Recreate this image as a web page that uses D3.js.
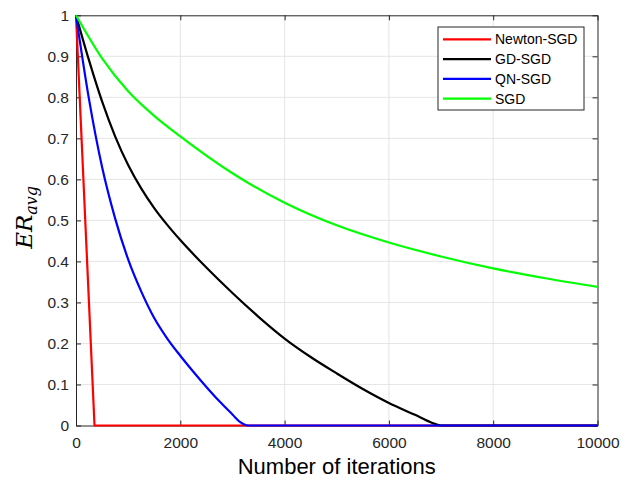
<!DOCTYPE html>
<html>
<head>
<meta charset="utf-8">
<script src="https://cdn.jsdelivr.net/npm/d3@7"></script>
<style>
  body { margin: 0; background: #fff; }
  svg { display: block; font-family: "Liberation Sans", Arial, sans-serif; }
</style>
</head>
<body>
<svg width="632" height="481"></svg>
<script>
// values
const seriesNames = ['Newton-SGD', 'GD-SGD', 'QN-SGD', 'SGD'];
const seriesColors = ['#ff0000', '#000000', '#0000ff', '#00ff00'];

const newtonIter = [0, 355, 10000];
const newtonEr = [1, 0, 0];

const gdIter = [0, 250, 500, 750, 1000, 1250, 1500, 1750, 2000, 2500, 3000, 3500, 4000, 4500, 5000, 5500, 6000, 6500, 6800, 7000, 10000];
const gdEr = [1, 0.89, 0.79, 0.705, 0.635, 0.578, 0.53, 0.489, 0.452, 0.385, 0.323, 0.265, 0.212, 0.167, 0.127, 0.089, 0.055, 0.026, 0.008, 0, 0];

const qnIter = [0, 250, 500, 750, 1000, 1250, 1500, 1750, 2000, 2250, 2500, 2750, 3000, 3150, 3300, 10000];
const qnEr = [1, 0.795, 0.63, 0.505, 0.405, 0.327, 0.262, 0.212, 0.17, 0.131, 0.094, 0.059, 0.027, 0.008, 0, 0];

const sgdIter = [0, 500, 1000, 1500, 2000, 3000, 4000, 5000, 6000, 7000, 8000, 9000, 10000];
const sgdEr = [1, 0.895, 0.815, 0.755, 0.705, 0.615, 0.543, 0.488, 0.446, 0.412, 0.383, 0.359, 0.338];

const xTicks = [0, 2000, 4000, 6000, 8000, 10000];
const yTicks = [0, 0.1, 0.2, 0.3, 0.4, 0.5, 0.6, 0.7, 0.8, 0.9, 1];

const series = [
  { iter: newtonIter, er: newtonEr, curve: d3.curveLinear },
  { iter: gdIter, er: gdEr, curve: d3.curveMonotoneX },
  { iter: qnIter, er: qnEr, curve: d3.curveMonotoneX },
  { iter: sgdIter, er: sgdEr, curve: d3.curveMonotoneX },
];

const margin = { top: 15.3, right: 34.5, bottom: 55.5, left: 76 };
const width = 632 - margin.left - margin.right;
const height = 481 - margin.top - margin.bottom;
const AXIS = '#262626';

const x = d3.scaleLinear().domain([0, 10000]).range([0, width]);
const y = d3.scaleLinear().domain([0, 1]).range([height, 0]);

const svg = d3.select('svg')
  .append('g')
    .attr('transform', 'translate(' + margin.left + ',' + margin.top + ')');

// grid
svg.append('g')
  .selectAll('line')
  .data(xTicks.slice(1, -1))
  .join('line')
    .attr('x1', d => x(d)).attr('x2', d => x(d))
    .attr('y1', 0).attr('y2', height)
    .style('stroke', '#dedede').style('stroke-width', 0.8);
svg.append('g')
  .selectAll('line')
  .data(yTicks.slice(1, -1))
  .join('line')
    .attr('y1', d => y(d)).attr('y2', d => y(d))
    .attr('x1', 0).attr('x2', width)
    .style('stroke', '#dedede').style('stroke-width', 0.8);

const fmt = d => String(+d.toFixed(1));

// axes, ticks pointing inward like matlab
const xAxis = d3.axisBottom(x).tickValues(xTicks).tickSizeInner(-5).tickSizeOuter(0).tickPadding(11).tickFormat(d => d);
const yAxis = d3.axisLeft(y).tickValues(yTicks).tickSizeInner(-5).tickSizeOuter(0).tickPadding(7).tickFormat(fmt);
const xTop = d3.axisTop(x).tickValues(xTicks).tickSizeInner(-5).tickSizeOuter(0).tickFormat('');
const yRight = d3.axisRight(y).tickValues(yTicks).tickSizeInner(-5).tickSizeOuter(0).tickFormat('');

svg.append('g').attr('class', 'x axis').attr('transform', 'translate(0,' + height + ')').call(xAxis);
svg.append('g').attr('class', 'y axis').call(yAxis);
svg.append('g').attr('transform', 'translate(0,0)').call(xTop);
svg.append('g').attr('transform', 'translate(' + width + ',0)').call(yRight);

svg.selectAll('.domain, .tick line').style('stroke', AXIS).style('stroke-width', 1);
svg.selectAll('.tick text').style('fill', AXIS).style('font-size', '15.5px')
  .style('font-family', '"Liberation Sans", Arial, sans-serif');

// lines
series.forEach((s, i) => {
  const line = d3.line()
    .curve(s.curve)
    .x(d => x(d[0]))
    .y(d => y(d[1]));
  svg.append('path')
    .datum(s.iter.map((v, j) => [v, s.er[j]]))
    .attr('d', line)
    .style('fill', 'none')
    .style('stroke', seriesColors[i])
    .style('stroke-width', 2.2)
    .style('stroke-linejoin', 'round');
});

// axis labels
svg.append('text')
  .attr('x', width / 2)
  .attr('y', height + 48.5)
  .attr('text-anchor', 'middle')
  .style('font-size', '22px')
  .style('fill', '#000')
  .text('Number of iterations');

const ylab = svg.append('text')
  .attr('transform', 'translate(' + (31.5 - margin.left) + ',' + (height / 2 - 3) + ') rotate(-90)')
  .attr('text-anchor', 'middle')
  .style('font-family', '"DejaVu Serif", serif')
  .style('font-style', 'italic')
  .style('fill', '#000');
ylab.append('tspan').style('font-size', '23px').text('ER');
ylab.append('tspan').style('font-size', '16px').attr('dy', 5).text('avg');

// legend
const legend = svg.append('g')
  .attr('transform', 'translate(' + (438 - margin.left) + ',' + (27 - margin.top) + ')');
legend.append('rect')
  .attr('width', 146).attr('height', 83)
  .style('fill', '#fff').style('stroke', AXIS).style('stroke-width', 1);
seriesNames.forEach((name, i) => {
  const ly = 12.3 + i * 19.8;
  legend.append('line')
    .attr('x1', 5).attr('x2', 53)
    .attr('y1', ly).attr('y2', ly)
    .style('stroke', seriesColors[i]).style('stroke-width', 2.2);
  legend.append('text')
    .attr('x', 57).attr('y', ly + 5)
    .style('font-size', '14px')
    .style('fill', '#000')
    .text(name);
});
</script>
</body>
</html>
